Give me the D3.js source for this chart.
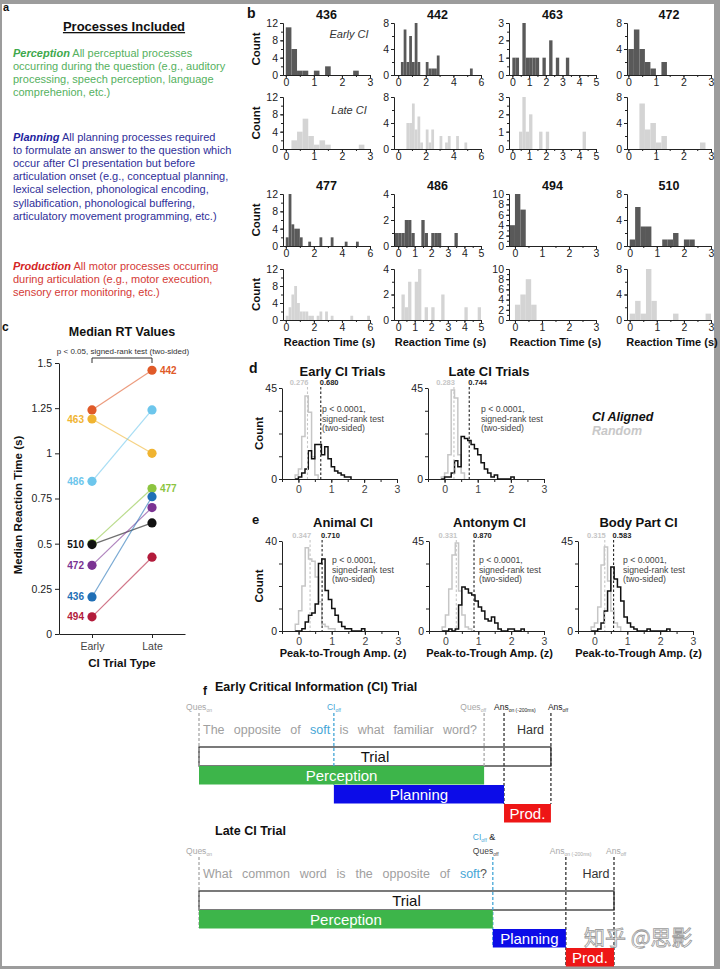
<!DOCTYPE html>
<html lang="en">
<head>
<meta charset="utf-8">
<title>CI timing figure</title>
<script src="https://d3js.org/d3.v7.min.js"></script>
<style>
  body { margin: 0; background: #fff; }
</style>
</head>
<body>
<script>
// ---------- data ----------
// panel a
var processNames = ["Perception", "Planning", "Production"];
var processLines = [
  [" All perceptual processes", "occurring during the question (e.g., auditory", "processing, speech perception, language", "comprehenion, etc.)"],
  [" All planning processes required", "to formulate an answer to the question which", "occur after CI presentation but before", "articulation onset (e.g., conceptual planning,", "lexical selection, phonological encoding,", "syllabification, phonological buffering,", "articulatory movement programming, etc.)"],
  [" All motor processes occurring", "during articulation (e.g., motor execution,", "sensory error monitoring, etc.)"]
];

// panel b : reaction time histograms, bins of 0.2 s
var subjects = ["436", "442", "463", "472", "477", "486", "494", "510"];
var rtXMin = [-0.1, -0.3, -0.2, -0.05, -0.2, -0.25, -0.22, -0.1];
var rtXMax = [3, 6, 5, 3, 6, 5, 3, 3];
var rtXTicks = [[0,1,2,3], [0,2,4,6], [0,1,2,3,4,5], [0,1,2,3], [0,2,4,6], [0,1,2,3,4,5], [0,1,2,3], [0,1,2,3]];
var rtYTicks = [[0,4,8,12], [0,4,8], [0,1,2,3], [0,4,8], [0,4,8,12], [0,2,4], [0,2,4,6,8,10], [0,4,8]];
var rtBinStart = [0, 0, 0, 0, 0, -0.2, -0.2, 0];
var rtBinWidth = 0.2;
var rtEarly = [
  [11,6,1,1,0,1,0,2,0,0,0,0,1],
  [0,2,7,2,6,2,8,2,0,0,2,1,1,1,3,0,0,0,0,0,0,0,0,0,0,0,1],
  [1,1,0,3,1,1,1,1,0,1,0,2,0,1,0,0,1],
  [4,7,4,2,1,0,2],
  [2,12,5,4,4,2,0,0,1,0,0,0,2,0,0,0,2,0,0,0,0,1,0,0,0,1],
  [1,1,1,2,2,1,0,0,2,1,0,1,1,1,0,0,0,0,1],
  [4,10,7],
  [1,6,3,3,0,0,1,1,2,0,1,1]
];
var rtLate = [
  [0,2,4,7,3,1,2,1,0,0,0,0,0,1],
  [0,0,0,4,4,7,3,5,1,0,3,1,3,0,0,2,0,1,2,0,0,2,0,0,1],
  [0,0,1,3,1,2,0,0,1,0,1,0,0,0,0,0,0,0,0,0,0,1],
  [0,0,7,3,4,1,2,0,0,0,0,0,0,1],
  [1,3,6,8,4,2,2,2,1,1,0,1,2,0,2,0,1,0,0,0,0,0,0,1,0,0,0,0,0,1],
  [0,0,2,1,3,0,3,4,0,1,0,1,0,0,2,0,0,0,0,0,0,1,0,0,0,1],
  [0,3,5,8,3],
  [1,3,1,8,3,0,0,0,1,0,0,0,0,0,1]
];

// panel c : median RT
var medSubjects = ["442", "463", "486", "477", "510", "472", "436", "494"];
var medEarly = [1.24, 1.19, 0.845, 0.5, 0.495, 0.38, 0.205, 0.095];
var medLate = [1.46, 1.0, 1.24, 0.805, 0.615, 0.70, 0.76, 0.425];
var medColors = ["#e05a28", "#f0b431", "#6dc6ec", "#8cc43f", "#111111", "#7b3393", "#1f6fb6", "#b31b3b"];
var medLabelSide = ["Late", "Early", "Early", "Late", "Early", "Early", "Early", "Early"];
var trialTypes = ["Early", "Late"];
var medYTicks = [0, 0.25, 0.5, 0.75, 1, 1.25, 1.5];

// panels d and e : peak-to-trough amplitude, bins of 0.1 starting at -0.1
var ampTitles = ["Early CI Trials", "Late CI Trials", "Animal CI", "Antonym CI", "Body Part CI"];
var ampYMax = [45, 45, 40, 45, 45];
var ampRandomMedian = [0.276, 0.283, 0.347, 0.331, 0.315];
var ampAlignedMedian = [0.680, 0.744, 0.710, 0.870, 0.583];
var ampBinStart = -0.1, ampBinWidth = 0.1;
var ampRandom = [
  [2,5,21,41,33,11,2],
  [1,3,12,44,40,12,3],
  [3,9,20,37,32,31,24,13,3,2,1,1],
  [2,8,21,38,44,20,8,2,1],
  [2,4,12,33,42,25,10,4,2]
];
var ampAligned = [
  [0,1,3,5,14,10,17,17,12,16,10,6,4,3,2,1,1],
  [0,1,1,3,9,6,21,20,19,17,15,12,8,5,3,1,2,0,0,0,0,1],
  [0,0,1,4,7,8,12,30,32,18,14,10,7,4,2,1,1,0,0,0,1],
  [0,0,1,0,1,13,22,21,19,18,15,12,10,6,5,7,4,1,0,0,1,1,0,0,1],
  [0,0,1,4,10,20,32,26,22,15,7,4,2,1,0,0,0,1,0,0,0,0,0,1]
];

// panel f : trial timelines (arbitrary time units)
var eventNames = ["Ques_on", "CI_off", "Ques_off", "Ans_on", "Ans_off"];
var earlyEventTimes = [0, 32.5, 68.7, 73.5, 84.8];
var lateEventTimes = [0, 70.8, 70.8, 88.4, 100];
var earlyWords = ["The", "opposite", "of", "soft", "is", "what", "familiar", "word?"];
var lateWords = ["What", "common", "word", "is", "the", "opposite", "of", "soft?"];
var ciWord = "soft";
var answerWord = "Hard";

// ---------- drawing ----------
var W = 720, H = 969;
var font = '"Liberation Sans", Arial, Helvetica, sans-serif';
var intFmt = d3.format("~g");
var svg = d3.select("body").append("svg")
  .attr("width", W).attr("height", H)
  .attr("font-family", font);

// grey frame
svg.append("rect").attr("width", W).attr("height", H).attr("fill", "#9c9c9c");
svg.append("rect").attr("x", 2).attr("y", 4).attr("width", 712).attr("height", 962).attr("fill", "#fff");

function label(t, x, y, size) {
  svg.append("text").attr("x", x).attr("y", y).attr("font-size", size)
    .attr("font-weight", "bold").attr("fill", "#111").text(t);
}
label("a", 3, 11, 11);
label("b", 247, 18, 14);
label("c", 2, 331, 12);
label("d", 249, 373, 14);
label("e", 252, 524, 13);
label("f", 203, 695, 12);

function styleAxis(g, size) {
  g.attr("font-family", font);
  g.select(".domain").attr("stroke", "#222");
  g.selectAll(".tick line").attr("stroke", "#222");
  g.selectAll(".tick text").attr("fill", "#222").attr("font-size", size);
}

// ---- panel a ----
svg.append("text").attr("x", 124).attr("y", 31).attr("text-anchor", "middle")
  .attr("font-size", 13).attr("font-weight", "bold").attr("fill", "#111")
  .attr("text-decoration", "underline").text("Processes Included");

var headColors = ["#3ea84c", "#22229e", "#d42525"];
var bodyColors = ["#55b160", "#2f2f99", "#d43a36"];
var blockY = [57, 141, 270];
processNames.forEach(function(name, i) {
  processLines[i].forEach(function(line, j) {
    var t = svg.append("text").attr("x", 13).attr("y", blockY[i] + j * 13.1)
      .attr("font-size", 11).attr("fill", bodyColors[i]);
    if (j == 0) {
      t.append("tspan").attr("font-weight", "bold").attr("font-style", "italic")
        .attr("fill", headColors[i]).text(name);
    }
    t.append("tspan").text(line);
  });
});

// ---- panel b ----
var colLeft = [283, 394, 509, 627];
var colRight = [370, 481, 596, 711];
var titleY = [19, 190];
var histTop = [23, 97, 194, 269];
var histBase = [75, 149, 246, 320];
var darkBar = "#595959", lightBar = "#d4d4d4";

subjects.forEach(function(s, i) {
  var col = i % 4, row = Math.floor(i / 4);
  var xs = d3.scaleLinear().domain([rtXMin[i], rtXMax[i]]).range([colLeft[col], colRight[col]]);
  var ymax = d3.max(rtYTicks[i]);
  var xStep = rtXTicks[i][1] - rtXTicks[i][0];
  var yStep = rtYTicks[i][1] - rtYTicks[i][0];

  svg.append("text").attr("x", (colLeft[col] + colRight[col]) / 2).attr("y", titleY[row])
    .attr("text-anchor", "middle").attr("font-size", 12.5).attr("font-weight", "bold")
    .attr("fill", "#111").text(s);

  [rtEarly[i], rtLate[i]].forEach(function(counts, k) {
    var top = histTop[row * 2 + k], base = histBase[row * 2 + k];
    var ys = d3.scaleLinear().domain([0, ymax]).range([base, top]);
    var bins = counts.map(function(c, j) {
      return { x0: rtBinStart[i] + j * rtBinWidth, c: c };
    }).filter(function(d) { return d.c > 0; });

    var g = svg.append("g");
    g.selectAll("rect").data(bins).enter().append("rect")
      .attr("x", function(d) { return xs(d.x0); })
      .attr("y", function(d) { return ys(d.c); })
      .attr("width", xs(rtBinWidth) - xs(0))
      .attr("height", function(d) { return base - ys(d.c); })
      .attr("fill", k == 0 ? darkBar : lightBar);

    // minor ticks
    var mx = g.append("g").attr("transform", "translate(0," + base + ")")
      .call(d3.axisBottom(xs).tickValues(d3.range(0, rtXMax[i] + 0.001, xStep / 2)).tickSize(2).tickFormat("").tickSizeOuter(0));
    styleAxis(mx, 10);
    var gx = g.append("g").attr("transform", "translate(0," + base + ")")
      .call(d3.axisBottom(xs).tickValues(rtXTicks[i]).tickSize(3).tickPadding(1).tickSizeOuter(0).tickFormat(intFmt));
    styleAxis(gx, 10.5);
    var my = g.append("g").attr("transform", "translate(" + colLeft[col] + ",0)")
      .call(d3.axisLeft(ys).tickValues(d3.range(0, ymax + 0.001, yStep / 2)).tickSize(2).tickFormat("").tickSizeOuter(0));
    styleAxis(my, 10);
    var gy = g.append("g").attr("transform", "translate(" + colLeft[col] + ",0)")
      .call(d3.axisLeft(ys).tickValues(rtYTicks[i]).tickSize(3).tickPadding(2).tickSizeOuter(0).tickFormat(intFmt));
    styleAxis(gy, 10.5);

    if (col == 0) {
      svg.append("text").attr("transform", "translate(260," + ((top + base) / 2) + ") rotate(-90)")
        .attr("text-anchor", "middle").attr("font-size", 11.5).attr("font-weight", "bold")
        .attr("fill", "#111").text("Count");
    }
  });
  if (row == 1) {
    svg.append("text").attr("x", (colLeft[col] + colRight[col]) / 2 + 3).attr("y", 346)
      .attr("text-anchor", "middle").attr("font-size", 11).attr("font-weight", "bold")
      .attr("fill", "#111").text("Reaction Time (s)");
  }
});
svg.append("text").attr("x", 349).attr("y", 38).attr("text-anchor", "middle")
  .attr("font-size", 11).attr("font-style", "italic").attr("fill", "#333").text("Early CI");
svg.append("text").attr("x", 349).attr("y", 114).attr("text-anchor", "middle")
  .attr("font-size", 11).attr("font-style", "italic").attr("fill", "#333").text("Late CI");

// ---- panel c ----
var cy = d3.scaleLinear().domain([0, 1.5]).range([634, 363]);
var cx = d3.scalePoint().domain(trialTypes).range([59, 185]).padding(0.55);

svg.append("text").attr("x", 122).attr("y", 336).attr("text-anchor", "middle")
  .attr("font-size", 12.5).attr("font-weight", "bold").attr("fill", "#111").text("Median RT Values");
svg.append("text").attr("x", 123).attr("y", 354).attr("text-anchor", "middle")
  .attr("font-size", 8).attr("fill", "#333").text("p < 0.05, signed-rank test (two-sided)");
svg.append("path")
  .attr("d", "M" + cx("Early") + ",363V358H" + cx("Late") + "V363")
  .attr("fill", "none").attr("stroke", "#333").attr("stroke-width", 1);

var cyAxis = svg.append("g").attr("transform", "translate(59,0)")
  .call(d3.axisLeft(cy).tickValues(medYTicks).tickSize(4).tickPadding(3).tickSizeOuter(0)
    .tickFormat(function(d) { return String(d); }));
styleAxis(cyAxis, 10.5);
var cxAxis = svg.append("g").attr("transform", "translate(0,634)")
  .call(d3.axisBottom(cx).tickSize(4).tickPadding(5).tickSizeOuter(0));
styleAxis(cxAxis, 10.5);
cxAxis.selectAll(".tick text").attr("fill", "#444");

svg.append("text").attr("transform", "translate(22,505) rotate(-90)").attr("text-anchor", "middle")
  .attr("font-size", 11.5).attr("font-weight", "bold").attr("fill", "#111").text("Median Reaction Time (s)");
svg.append("text").attr("x", 122).attr("y", 667).attr("text-anchor", "middle")
  .attr("font-size", 11.5).attr("font-weight", "bold").attr("fill", "#111").text("CI Trial Type");

var medData = medSubjects.map(function(s, i) {
  return { s: s, e: medEarly[i], l: medLate[i], c: medColors[i], side: medLabelSide[i] };
});
svg.selectAll(".medline").data(medData).enter().append("line")
  .attr("x1", cx("Early")).attr("x2", cx("Late"))
  .attr("y1", function(d) { return cy(d.e); }).attr("y2", function(d) { return cy(d.l); })
  .attr("stroke", function(d) { return d.c; }).attr("stroke-opacity", 0.6).attr("stroke-width", 1.2);
medData.forEach(function(d) {
  [["Early", d.e], ["Late", d.l]].forEach(function(p) {
    svg.append("circle").attr("cx", cx(p[0])).attr("cy", cy(p[1])).attr("r", 4.6).attr("fill", d.c);
  });
  var onLate = d.side == "Late";
  svg.append("text")
    .attr("x", onLate ? cx("Late") + 8 : cx("Early") - 8)
    .attr("y", cy(onLate ? d.l : d.e)).attr("dy", "0.35em")
    .attr("text-anchor", onLate ? "start" : "end")
    .attr("font-size", 10).attr("font-weight", "bold").attr("fill", d.c).text(d.s);
});

// ---- panels d & e ----
var ampLeft = [282, 428, 282, 429, 578];
var ampRight = [397, 544, 398, 544, 693];
var ampTop = [388, 388, 541, 541, 541];
var ampBase = [479, 479, 631, 631, 631];
var ampTitleY = [376, 376, 527, 527, 527];
var pTextX = [322, 481, 332, 479, 623];
var pTextY = [412, 412, 563, 563, 563];

function stepPoints(counts) {
  var pts = [[ampBinStart, 0]];
  counts.forEach(function(c, j) {
    pts.push([ampBinStart + j * ampBinWidth, c]);
    pts.push([ampBinStart + (j + 1) * ampBinWidth, c]);
  });
  pts.push([ampBinStart + counts.length * ampBinWidth, 0]);
  return pts;
}

ampTitles.forEach(function(title, i) {
  var xs = d3.scaleLinear().domain([-0.5, 3]).range([ampLeft[i], ampRight[i]]);
  var ys = d3.scaleLinear().domain([0, ampYMax[i]]).range([ampBase[i], ampTop[i]]);
  var g = svg.append("g");

  g.append("text").attr("x", (ampLeft[i] + ampRight[i]) / 2 + 3).attr("y", ampTitleY[i])
    .attr("text-anchor", "middle").attr("font-size", 13).attr("font-weight", "bold")
    .attr("fill", "#111").text(title);

  var mx = g.append("g").attr("transform", "translate(0," + ampBase[i] + ")")
    .call(d3.axisBottom(xs).tickValues(d3.range(-0.5, 3.01, 0.5)).tickSize(3).tickFormat("").tickSizeOuter(0));
  styleAxis(mx, 10);
  var gx = g.append("g").attr("transform", "translate(0," + ampBase[i] + ")")
    .call(d3.axisBottom(xs).tickValues([0, 1, 2, 3]).tickSize(4).tickPadding(3).tickSizeOuter(0).tickFormat(intFmt));
  styleAxis(gx, 10.5);
  gx.selectAll(".tick text").attr("fill", "#444");
  var gy = g.append("g").attr("transform", "translate(" + ampLeft[i] + ",0)")
    .call(d3.axisLeft(ys).tickValues(d3.range(0, ampYMax[i] + 0.01, ampYMax[i] / 4)).tickSize(3).tickPadding(2)
      .tickSizeOuter(0).tickFormat(function(d) { return (d == 0 || d == ampYMax[i]) ? d : ""; }));
  styleAxis(gy, 10.5);

  var line = d3.line().x(function(d) { return xs(d[0]); }).y(function(d) { return ys(d[1]); });
  g.append("path").attr("d", line(stepPoints(ampRandom[i])))
    .attr("fill", "none").attr("stroke", "#c6c6c6").attr("stroke-width", 1.5);
  g.append("path").attr("d", line(stepPoints(ampAligned[i])))
    .attr("fill", "none").attr("stroke", "#111").attr("stroke-width", 1.5);

  // medians
  [[ampRandomMedian[i], "#c6c6c6", "end"], [ampAlignedMedian[i], "#222", "start"]].forEach(function(m) {
    g.append("line").attr("x1", xs(m[0])).attr("x2", xs(m[0]))
      .attr("y1", ampTop[i] - 1).attr("y2", ampBase[i])
      .attr("stroke", m[1]).attr("stroke-width", 1.1).attr("stroke-dasharray", "2.5,2");
    g.append("text").attr("x", xs(m[0]) + (m[2] == "end" ? 1 : -1)).attr("y", ampTop[i] - 3)
      .attr("text-anchor", m[2]).attr("font-size", 7.5).attr("font-weight", "bold")
      .attr("fill", m[1]).text(d3.format(".3f")(m[0]));
  });

  ["p < 0.0001,", "signed-rank test", "(two-sided)"].forEach(function(t, j) {
    g.append("text").attr("x", pTextX[i]).attr("y", pTextY[i] + j * 9.6)
      .attr("font-size", 8.7).attr("fill", "#444").text(t);
  });

  if (i == 0 || i == 2) {
    svg.append("text").attr("transform", "translate(263," + ((ampTop[i] + ampBase[i]) / 2) + ") rotate(-90)")
      .attr("text-anchor", "middle").attr("font-size", 11.5).attr("font-weight", "bold")
      .attr("fill", "#111").text("Count");
  }
  if (i >= 2) {
    svg.append("text").attr("x", (ampLeft[i] + ampRight[i]) / 2 + 3).attr("y", 657)
      .attr("text-anchor", "middle").attr("font-size", 11).attr("font-weight", "bold")
      .attr("fill", "#111").text("Peak-to-Trough Amp. (z)");
  }
});
svg.append("text").attr("x", 592).attr("y", 421).attr("font-size", 12.5).attr("font-weight", "bold")
  .attr("font-style", "italic").attr("fill", "#111").text("CI Aligned");
svg.append("text").attr("x", 592).attr("y", 435).attr("font-size", 12.5).attr("font-weight", "bold")
  .attr("font-style", "italic").attr("fill", "#c8c8c8").text("Random");

// ---- panel f ----
var ts = d3.scaleLinear().domain([0, 100]).range([199, 614]);
var lightGrey = "#a8a8a8", ciBlue = "#45a6d6";

function subLabel(x, y, anchor, main, sub, color, tail) {
  var t = svg.append("text").attr("x", x).attr("y", y).attr("text-anchor", anchor)
    .attr("font-size", 8.5).attr("fill", color);
  t.append("tspan").text(main);
  t.append("tspan").attr("font-size", 5).attr("dy", 2).text(sub);
  if (tail) t.append("tspan").attr("dy", -2).attr("fill", "#222").attr("font-size", 9).text(tail);
  return t;
}

function drawWords(words, x0, x1, y) {
  var g = svg.append("g");
  var items = words.map(function(w) {
    var t = g.append("text").attr("y", y).attr("font-size", 12.5).attr("fill", "#a0a0a0");
    if (w.indexOf(ciWord) == 0) {
      t.append("tspan").attr("fill", ciBlue).text(ciWord);
      if (w.length > ciWord.length) t.append("tspan").attr("fill", "#555").text(w.slice(ciWord.length));
    } else {
      t.text(w);
    }
    return t;
  });
  var widths = items.map(function(t) { return t.node().getComputedTextLength(); });
  var gap = (x1 - x0 - d3.sum(widths)) / (words.length - 1);
  var x = x0;
  items.forEach(function(t, j) { t.attr("x", x); x += widths[j] + gap; });
}

function drawTrial(times, T, titleText, words, wordEnd, late) {
  svg.append("text").attr("x", 215).attr("y", T - 56).attr("font-size", 12.5)
    .attr("font-weight", "bold").attr("fill", "#111").text(titleText);

  var ev = {};
  eventNames.forEach(function(n, j) { ev[n] = ts(times[j]); });

  // sentence and answer
  drawWords(words, ev["Ques_on"] + 4, wordEnd, T - 13);
  svg.append("text").attr("x", (ev["Ans_on"] + ev["Ans_off"]) / 2 + (late ? 6 : 3)).attr("y", T - 13)
    .attr("text-anchor", "middle").attr("font-size", 12.5).attr("fill", "#333").text(answerWord);

  // trial box
  svg.append("rect").attr("x", ev["Ques_on"]).attr("y", T).attr("width", ev["Ans_off"] - ev["Ques_on"])
    .attr("height", 19).attr("fill", "#fff").attr("stroke", "#333").attr("stroke-width", 1.3);
  svg.append("text").attr("x", (ev["Ques_on"] + ev["Ans_off"]) / 2).attr("y", T + 15)
    .attr("text-anchor", "middle").attr("font-size", 15).attr("fill", "#111").text("Trial");

  // dashed event lines
  var lines = late
    ? [["Ques_on", lightGrey, T + 37], ["CI_off", ciBlue, T + 56], ["Ans_on", "#333", T + 76], ["Ans_off", "#333", T + 76]]
    : [["Ques_on", lightGrey, T + 19], ["CI_off", ciBlue, T + 38], ["Ques_off", lightGrey, T + 19], ["Ans_on", "#333", T + 57], ["Ans_off", "#333", T + 57]];
  lines.forEach(function(l) {
    svg.append("line").attr("x1", ev[l[0]]).attr("x2", ev[l[0]]).attr("y1", T - 34).attr("y2", l[2])
      .attr("stroke", l[1]).attr("stroke-width", 1.3).attr("stroke-dasharray", "3,2");
  });

  // phase bars
  var phases = [
    ["Perception", "Ques_on", "Ques_off", T + 19, "#3db54a"],
    ["Planning", "CI_off", "Ans_on", T + 38, "#0c0ce8"],
    ["Prod.", "Ans_on", "Ans_off", T + 57, "#ee1616"]
  ];
  phases.forEach(function(p) {
    svg.append("rect").attr("x", ev[p[1]]).attr("y", p[3]).attr("width", ev[p[2]] - ev[p[1]])
      .attr("height", 18.5).attr("fill", p[4]);
    svg.append("text").attr("x", (ev[p[1]] + ev[p[2]]) / 2).attr("y", p[3] + 14.5)
      .attr("text-anchor", "middle").attr("font-size", 15).attr("fill", "#fff").text(p[0]);
  });

  // event labels
  var ly = T - 37;
  subLabel(ev["Ques_on"], ly, "middle", "Ques", "on", lightGrey);
  if (!late) {
    subLabel(ev["CI_off"], ly, "middle", "CI", "off", ciBlue);
    subLabel(ev["Ques_off"] + 2, ly, "end", "Ques", "off", lightGrey);
    subLabel(ev["Ans_on"] - 10, ly, "start", "Ans", "on (-200ms)", "#222");
    subLabel(ev["Ans_off"] - 3, ly, "start", "Ans", "off", "#222");
  } else {
    subLabel(ev["CI_off"] - 20, ly - 14, "start", "CI", "off", ciBlue, " &");
    subLabel(ev["Ques_off"] - 20, ly, "start", "Ques", "off", "#444");
    subLabel(ev["Ans_on"] - 16, ly, "start", "Ans", "on (-200ms)", lightGrey);
    subLabel(ev["Ans_off"] - 8, ly, "start", "Ans", "off", lightGrey);
  }
}

drawTrial(earlyEventTimes, 747, "Early Critical Information (CI) Trial", earlyWords, 477, false);
drawTrial(lateEventTimes, 891, "Late CI Trial", lateWords, 487, true);

// watermark
svg.append("text").attr("x", 584).attr("y", 945).attr("font-size", 21)
  .attr("font-family", '"Noto Sans CJK SC", sans-serif')
  .attr("fill", "#fff").attr("stroke", "#8a8a8a").attr("stroke-width", 0.8)
  .attr("opacity", 0.85).text("知乎 @思影");
</script>
</body>
</html>
